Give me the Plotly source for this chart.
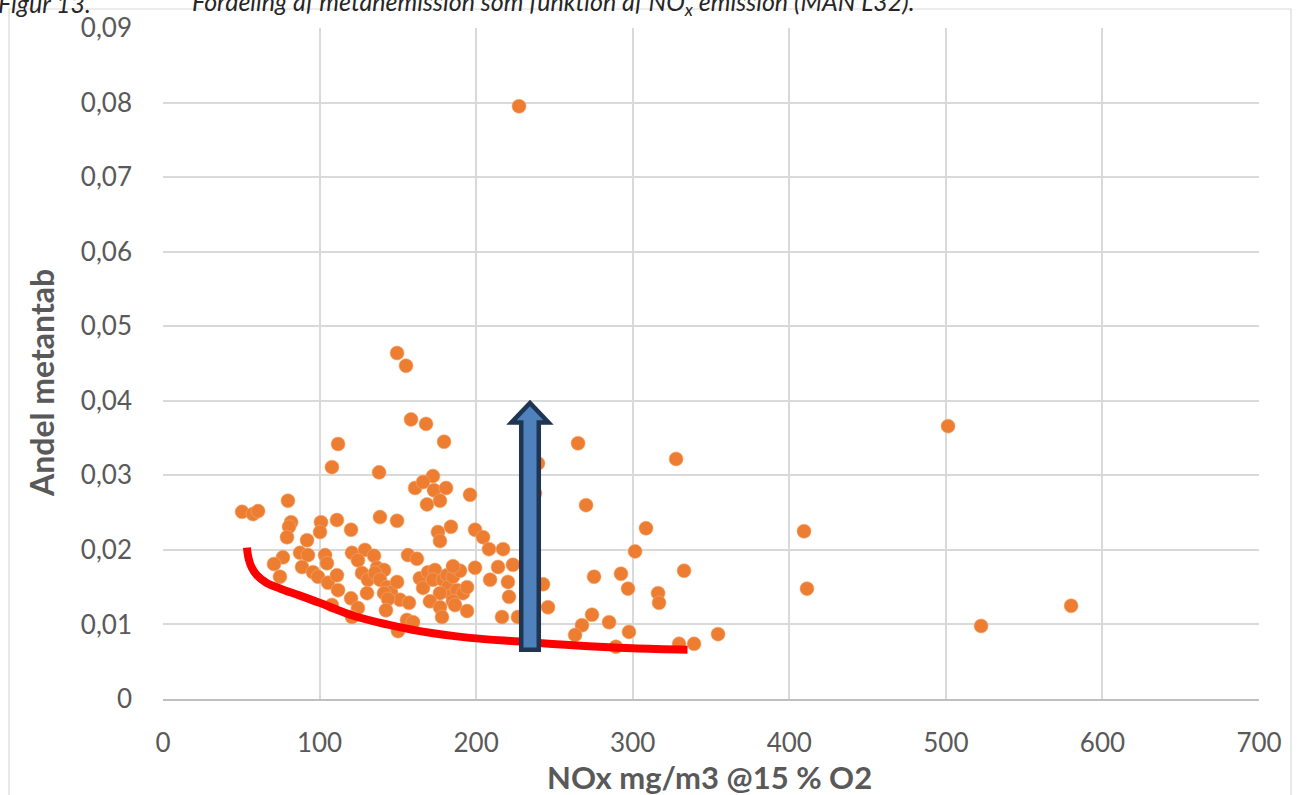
import plotly.graph_objects as go

# ---- data ----
nox = [227.4, 149.5, 155.2, 158.4, 168.0, 179.5, 111.8, 265.1, 107.9, 138.0,
       172.4, 327.7, 239.5, 501.4, 409.4, 411.3, 522.5, 580.0, 50.5, 57.5,
       60.7, 79.8, 81.8, 80.5, 79.2, 92.0, 100.9, 100.3, 111.1, 120.1,
       138.6, 149.5, 76.6, 70.9, 74.7, 87.5, 92.6, 88.8, 95.8, 103.5,
       104.7, 99.0, 105.4, 111.1, 111.8, 107.9, 120.1, 120.7, 129.0, 124.5,
       127.1, 130.9, 130.3, 124.5, 120.7, 134.8, 136.7, 141.2, 135.4, 138.6,
       143.1, 145.6, 141.2, 149.5, 151.4, 143.7, 142.4, 157.1, 155.8, 159.7,
       150.1, 161.0, 166.1, 173.1, 180.8, 196.1, 168.6, 176.9, 183.9, 175.6,
       176.9, 199.3, 204.4, 208.2, 217.2, 156.5, 162.2, 164.1, 166.1, 169.3,
       173.7, 172.4, 178.8, 181.4, 182.0, 185.2, 189.7, 185.2, 199.3, 214.0,
       223.5, 184.6, 187.8, 191.6, 176.9, 170.5, 176.9, 185.2, 194.2, 194.2,
       186.5, 178.2, 208.9, 220.3, 221.0, 216.5, 226.7, 237.6, 242.7, 245.9,
       275.3, 292.5, 297.0, 316.2, 316.8, 274.0, 267.6, 263.2, 284.9, 297.6,
       289.3, 329.6, 339.2, 354.5, 270.2, 308.5, 301.5, 332.8]
methane = [0.0795, 0.0464, 0.0447, 0.0375, 0.0369, 0.0345, 0.0342, 0.0343, 0.0311, 0.0304,
           0.0299, 0.0322, 0.0316, 0.0366, 0.0225, 0.0148, 0.0098, 0.0125, 0.0251, 0.0248,
           0.0252, 0.0266, 0.0237, 0.0231, 0.0217, 0.0213, 0.0237, 0.0224, 0.0240, 0.0227,
           0.0244, 0.0239, 0.0190, 0.0181, 0.0164, 0.0196, 0.0193, 0.0177, 0.0170, 0.0193,
           0.0182, 0.0164, 0.0156, 0.0166, 0.0146, 0.0126, 0.0135, 0.0196, 0.0200, 0.0186,
           0.0169, 0.0160, 0.0142, 0.0122, 0.0110, 0.0192, 0.0176, 0.0173, 0.0169, 0.0160,
           0.0150, 0.0143, 0.0142, 0.0157, 0.0133, 0.0134, 0.0119, 0.0129, 0.0106, 0.0103,
           0.0091, 0.0283, 0.0291, 0.0280, 0.0283, 0.0274, 0.0261, 0.0266, 0.0231, 0.0224,
           0.0212, 0.0227, 0.0217, 0.0201, 0.0201, 0.0193, 0.0188, 0.0162, 0.0149, 0.0170,
           0.0173, 0.0160, 0.0160, 0.0166, 0.0150, 0.0164, 0.0172, 0.0178, 0.0176, 0.0177,
           0.0180, 0.0139, 0.0146, 0.0142, 0.0142, 0.0131, 0.0123, 0.0131, 0.0150, 0.0118,
           0.0126, 0.0110, 0.0160, 0.0157, 0.0137, 0.0110, 0.0110, 0.0276, 0.0154, 0.0123,
           0.0164, 0.0168, 0.0148, 0.0142, 0.0129, 0.0113, 0.0099, 0.0086, 0.0103, 0.0090,
           0.0070, 0.0074, 0.0074, 0.0087, 0.0260, 0.0229, 0.0198, 0.0172]

# hand-drawn lower envelope curve
curve_x = [53.6, 54.5, 56.5, 60.0, 66.0, 75.0, 87.0, 100.0, 121.0, 143.0, 164.0, 196.0, 228.0, 262.0, 300.0, 335.0]
curve_y = [0.0203, 0.0190, 0.0177, 0.0166, 0.0156, 0.0148, 0.0139, 0.0129, 0.0112, 0.0100, 0.0091, 0.0082, 0.0077, 0.0072, 0.0068, 0.0066]

# block arrow (data units)
arrow_x = 234.4
arrow_y_bottom = 0.0066
arrow_y_tip = 0.0397
arrow_head_base = 0.0371
arrow_shaft_half = 5.6
arrow_head_half = 11.8

x_ticks = [0, 100, 200, 300, 400, 500, 600, 700]
y_ticks = [0, 0.01, 0.02, 0.03, 0.04, 0.05, 0.06, 0.07, 0.08, 0.09]
y_ticktext = ["0", "0,01", "0,02", "0,03", "0,04", "0,05", "0,06", "0,07", "0,08", "0,09"]

x_title = "NOx mg/m3 @15 % O2"
y_title = "Andel metantab"
caption_a = "Figur 13."
caption_b = "Fordeling af metanemission som funktion af NO<sub>x</sub> emission (MAN L32)."

FONT = "Lato"
GRID = "#D9D9D9"
TXT = "#595959"
L, R, T, B = 163, 1259, 28, 699
PW, PH = R - L, B - T


def px_x(px):
    return (px - L) / PW


def px_y(py):
    return (B - py) / PH


fig = go.Figure()
fig.add_trace(go.Scatter(
    x=nox, y=methane, mode="markers",
    marker=dict(color="#ED7D31", size=14, line=dict(color="#F3A873", width=0.6)),
    showlegend=False, hoverinfo="x+y"))
fig.add_trace(go.Scatter(
    x=curve_x, y=curve_y, mode="lines",
    line=dict(color="#FF0000", width=8, shape="spline", smoothing=1.0),
    showlegend=False, hoverinfo="skip"))

# arrow path built from the arrow parameters
ax0, ax1 = arrow_x - arrow_shaft_half, arrow_x + arrow_shaft_half
hx0, hx1 = arrow_x - arrow_head_half, arrow_x + arrow_head_half
arrow_path = (f"M {ax0},{arrow_y_bottom} L {ax1},{arrow_y_bottom} L {ax1},{arrow_head_base} "
              f"L {hx1},{arrow_head_base} L {arrow_x},{arrow_y_tip} L {hx0},{arrow_head_base} "
              f"L {ax0},{arrow_head_base} Z")
fig.add_shape(type="path", path=arrow_path, xref="x", yref="y",
              fillcolor="#4F81BD", line=dict(color="#1F3552", width=4.5), layer="above")

# outer chart frame
fig.add_shape(type="rect", xref="paper", yref="paper",
              x0=px_x(9), x1=px_x(1291), y0=px_y(820), y1=px_y(9),
              line=dict(color="#D9D9D9", width=1.2), fillcolor="rgba(0,0,0,0)", layer="below")

# caption (cut off at the top edge, as in the reference)
fig.add_annotation(text=f"<i>{caption_a}</i>", xref="paper", yref="paper",
                   x=px_x(-4), y=px_y(3), xanchor="left", yanchor="middle",
                   showarrow=False, font=dict(family=FONT, size=25, color="#262626"))
fig.add_annotation(text=f"<i>{caption_b}</i>", xref="paper", yref="paper",
                   x=px_x(190), y=px_y(3), xanchor="left", yanchor="middle",
                   showarrow=False, font=dict(family=FONT, size=25, color="#262626"))

# axis titles
fig.add_annotation(text=f"<b>{x_title}</b>", xref="paper", yref="paper",
                   x=px_x(709), y=px_y(777), xanchor="center", yanchor="middle",
                   showarrow=False, font=dict(family=FONT, size=31, color=TXT))
fig.add_annotation(text=f"<b>{y_title}</b>", xref="paper", yref="paper",
                   x=px_x(42), y=px_y(383), xanchor="center", yanchor="middle", textangle=-90,
                   showarrow=False, font=dict(family=FONT, size=32, color=TXT))

fig.update_layout(
    width=1298, height=795,
    margin=dict(l=L, r=1298 - R, t=T, b=795 - B),
    paper_bgcolor="white", plot_bgcolor="white",
    font=dict(family=FONT, color=TXT),
    xaxis=dict(range=[0, 700], tickvals=x_ticks, showgrid=True, gridcolor=GRID, gridwidth=1.5,
               zeroline=False, showline=True, linecolor="#BFBFBF", linewidth=1.5,
               ticks="", tickfont=dict(family=FONT, size=26, color=TXT), ticklabelstandoff=20),
    yaxis=dict(range=[0, 0.09], tickvals=y_ticks, ticktext=y_ticktext, showgrid=True,
               gridcolor=GRID, gridwidth=1.5, zeroline=False, showline=False,
               ticks="", tickfont=dict(family=FONT, size=26, color=TXT), ticklabelstandoff=30),
)

fig.write_html("out.html")
